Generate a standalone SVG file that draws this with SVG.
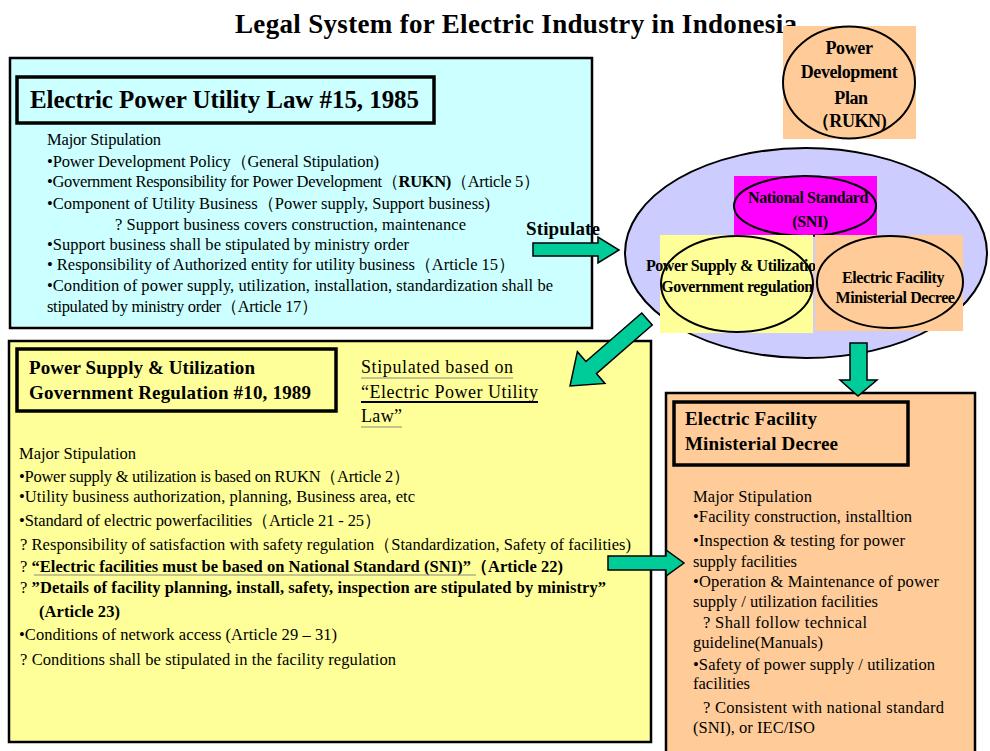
<svg xmlns="http://www.w3.org/2000/svg" width="990" height="751" viewBox="0 0 990 751">
  <style>
    text { font-family: "Liberation Serif", "Times New Roman", serif; fill: #000; }
    .title { font-size: 27px; font-weight: bold; }
    .hdr { font-size: 25px; font-weight: bold; }
    .hdr2 { font-size: 19px; font-weight: bold; }
    .body { font-size: 16.5px; }
    .note { font-size: 18px; }
    .bold { font-weight: bold; }
    .oval { font-size: 16px; font-weight: bold; letter-spacing: -0.4px; }
    .plan { font-size: 18px; font-weight: bold; letter-spacing: -0.4px; }
    .panel { stroke: #000; stroke-width: 2.5; }
    .tbox { fill: none; stroke: #000; stroke-width: 3.5; }
    .ring { stroke: #000; stroke-width: 2; }
    .arrow { fill: #00CC99; stroke: #000; stroke-width: 1.5; stroke-linejoin: miter; }
  </style>

  <!-- heading -->
  <text class="title" x="235" y="33" textLength="562">Legal System for Electric Industry in Indonesia</text>

  <!-- Power Development Plan (RUKN) -->
  <g id="rukn">
    <rect x="783" y="26" width="133" height="113" fill="#FFCC99"/>
    <ellipse class="ring" cx="849" cy="82.5" rx="66" ry="56" fill="#FFCC99"/>
    <text class="plan" x="849" y="54" text-anchor="middle">Power</text>
    <text class="plan" x="849" y="78" text-anchor="middle">Development</text>
    <text class="plan" x="851" y="104" text-anchor="middle">Plan</text>
    <text class="plan" x="849" y="127" text-anchor="middle">（RUKN)</text>
  </g>

  <!-- Electric Power Utility Law -->
  <g id="utility-law">
    <rect class="panel" x="10" y="58" width="582" height="270" fill="#CCFFFF"/>
    <rect class="tbox" x="17" y="77" width="417" height="46"/>
    <text class="hdr" x="30" y="108" textLength="389">Electric Power Utility Law #15, 1985</text>
    <text class="body" x="47" y="145" textLength="114">Major Stipulation</text>
    <text class="body" x="47" y="167" textLength="332">•Power Development Policy（General Stipulation)</text>
    <text class="body" x="47" y="187" textLength="493">•Government Responsibility for Power Development（<tspan class="bold">RUKN)</tspan>（Article 5）</text>
    <text class="body" x="47" y="209" textLength="443">•Component of Utility Business（Power supply,  Support business)</text>
    <text class="body" x="115" y="230" textLength="351">? Support business covers construction, maintenance</text>
    <text class="body" x="47" y="250" textLength="362">•Support business shall be stipulated by ministry order</text>
    <text class="body" x="47" y="270" textLength="468">• Responsibility of Authorized entity for utility business（Article 15）</text>
    <text class="body" x="47" y="291" textLength="506">•Condition of power supply, utilization, installation, standardization shall be</text>
    <text class="body" x="47" y="312" textLength="271">stipulated by ministry order（Article 17）</text>
    <text class="hdr2" x="526" y="235" textLength="74">Stipulate</text>
  </g>

  <!-- umbrella of the three instruments -->
  <g id="framework">
    <ellipse class="ring" cx="806" cy="253" rx="181" ry="105" fill="#CCCCFF"/>
  </g>

  <g id="sni">
    <rect x="734" y="176" width="143" height="60" fill="#FF00FF"/>
    <ellipse class="ring" cx="805" cy="206" rx="71" ry="30" fill="#FF00FF"/>
    <text class="oval" x="808" y="203" text-anchor="middle">National Standard</text>
    <text class="oval" x="810" y="227" text-anchor="middle">(SNI)</text>
  </g>

  <g id="gov-reg-oval">
    <rect x="660" y="235" width="153" height="98" fill="#FFFF99"/>
    <ellipse class="ring" cx="737" cy="284" rx="76" ry="48" fill="#FFFF99"/>
    <text class="oval" x="735" y="271" text-anchor="middle">Power Supply &amp; Utilization</text>
    <text class="oval" x="737" y="292" text-anchor="middle">Government regulation</text>
  </g>

  <g id="decree-oval">
    <rect x="815" y="235" width="148" height="96" fill="#FFCC99"/>
    <ellipse class="ring" cx="890" cy="282" rx="73" ry="46" fill="#FFCC99"/>
    <text class="oval" x="893" y="283" text-anchor="middle">Electric Facility</text>
    <text class="oval" x="895" y="303" text-anchor="middle">Ministerial Decree</text>
  </g>

  <!-- Government Regulation #10 -->
  <g id="gov-regulation">
    <rect class="panel" x="9" y="341" width="642" height="401" fill="#FFFF99"/>
    <rect class="tbox" x="17" y="349" width="319" height="62"/>
    <text class="hdr2" x="29" y="374" textLength="226">Power Supply &amp; Utilization</text>
    <text class="hdr2" x="29" y="399" textLength="282">Government Regulation #10, 1989</text>
    <text class="note" x="361" y="373" textLength="152">Stipulated based on</text>
    <text class="note" x="361" y="398" textLength="177">“Electric Power Utility</text>
    <text class="note" x="361" y="422" textLength="41">Law”</text>
    <line x1="361" y1="378" x2="513" y2="378" stroke="#888" stroke-width="1"/>
    <line x1="361" y1="402" x2="538" y2="402" stroke="#000" stroke-width="2"/>
    <line x1="361" y1="427" x2="402" y2="427" stroke="#888" stroke-width="1"/>

    <text class="body" x="19" y="459" textLength="117">Major Stipulation</text>
    <text class="body" x="19" y="482" textLength="391">•Power supply &amp; utilization is based on RUKN（Article 2）</text>
    <text class="body" x="19" y="502" textLength="396">•Utility business authorization, planning, Business area, etc</text>
    <text class="body" x="19" y="526" textLength="362">•Standard of electric powerfacilities（Article 21 - 25）</text>
    <text class="body" x="20" y="550" textLength="611">? Responsibility of satisfaction with safety regulation（Standardization, Safety of facilities)</text>
    <text class="body" x="20" y="572" textLength="543">? <tspan class="bold">“Electric facilities must be based on National Standard (SNI)”（Article 22)</tspan></text>
    <line x1="34" y1="575" x2="476" y2="575" stroke="#888" stroke-width="1"/>
    <text class="body" x="20" y="593" textLength="586">? <tspan class="bold">”Details of facility planning, install, safety, inspection are stipulated by ministry”</tspan></text>
    <text class="body bold" x="39" y="617" textLength="81">(Article 23)</text>
    <text class="body" x="19" y="640" textLength="318">•Conditions of network access (Article 29 – 31)</text>
    <text class="body" x="20" y="665" textLength="376">? Conditions shall be stipulated in the facility regulation</text>
  </g>

  <!-- Electric Facility Ministerial Decree -->
  <g id="ministerial-decree">
    <rect class="panel" x="666" y="393" width="309" height="370" fill="#FFCC99"/>
    <rect class="tbox" x="674" y="402" width="234" height="63"/>
    <text class="hdr2" x="685" y="425" textLength="132">Electric Facility</text>
    <text class="hdr2" x="685" y="450" textLength="153">Ministerial Decree</text>
    <text class="body" x="693" y="502" textLength="119">Major Stipulation</text>
    <text class="body" x="693" y="522" textLength="219">•Facility construction, installtion</text>
    <text class="body" x="693" y="546" textLength="212">•Inspection &amp; testing for power</text>
    <text class="body" x="693" y="567" textLength="104">supply facilities</text>
    <text class="body" x="693" y="587" textLength="246">•Operation &amp; Maintenance of power</text>
    <text class="body" x="693" y="607" textLength="185">supply / utilization facilities</text>
    <text class="body" x="703" y="628" textLength="164">? Shall follow technical</text>
    <text class="body" x="693" y="648" textLength="130">guideline(Manuals)</text>
    <text class="body" x="693" y="670" textLength="242">•Safety of power supply / utilization</text>
    <text class="body" x="693" y="689" textLength="57">facilities</text>
    <text class="body" x="703" y="713" textLength="241">? Consistent with national standard</text>
    <text class="body" x="693" y="733" textLength="122">(SNI), or IEC/ISO</text>
  </g>

  <!-- connectors -->
  <g id="connectors">
    <polygon class="arrow" points="533,243 598,243 598,237 619,250 598,263 598,256 533,256"/>
    <polygon class="arrow" transform="translate(647,319) rotate(139)" points="0,-8 74,-8 74,-21 102,0 74,21 74,8 0,8"/>
    <polygon class="arrow" points="850,343 867,343 867,380 877,380 858,396 840,380 850,380"/>
    <polygon class="arrow" points="608,556 666,556 666,550 684,563 666,576 666,570 608,570"/>
  </g>
</svg>
